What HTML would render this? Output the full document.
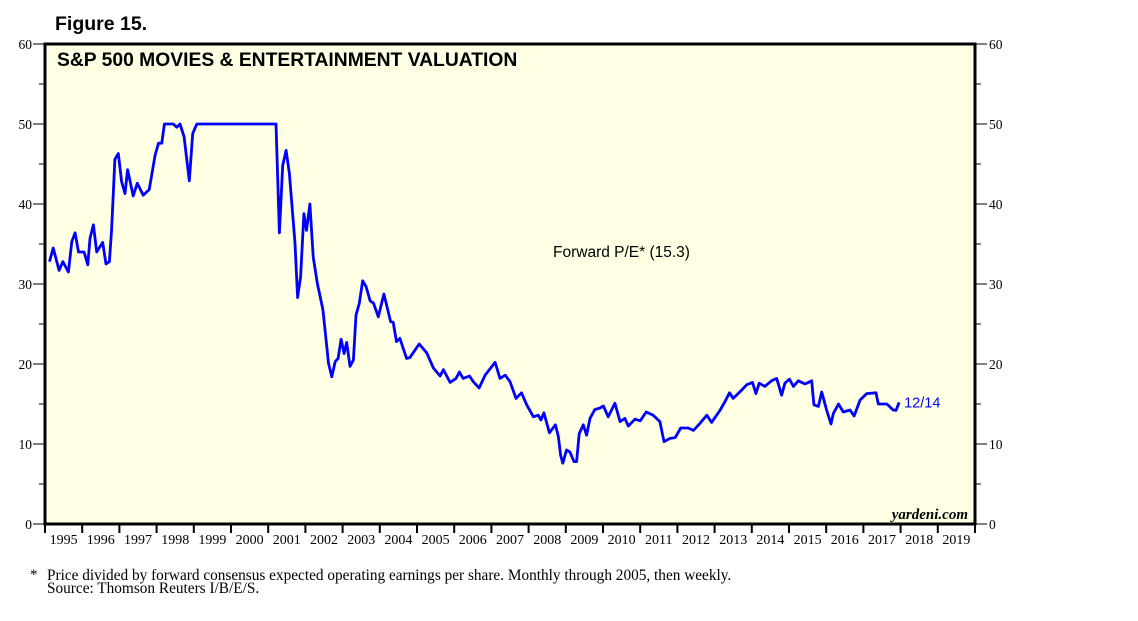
<!DOCTYPE html>
<html><head><meta charset="utf-8">
<style>
body{margin:0;background:#fff;width:1138px;height:621px;overflow:hidden;}
svg{display:block}
</style></head>
<body>
<svg id="chart" width="1138" height="621" xmlns="http://www.w3.org/2000/svg">
<text x="55" y="30" font-family="Liberation Sans, sans-serif" font-weight="bold" font-size="19.5">Figure 15.</text>
<rect x="45" y="44" width="930" height="480" fill="#ffffe3" stroke="#000" stroke-width="3"/>
<text x="57" y="66" font-family="Liberation Sans, sans-serif" font-weight="bold" font-size="19.3">S&amp;P 500 MOVIES &amp; ENTERTAINMENT VALUATION</text>
<text x="553" y="257" font-family="Liberation Sans, sans-serif" font-size="15.5">Forward P/E* (15.3)</text>
<text x="968" y="519" text-anchor="end" font-family="Liberation Serif, serif" font-style="italic" font-weight="bold" font-size="15">yardeni.com</text>
<g id="axes"></g>
<g id="series"></g>
<text x="30" y="579" font-family="Liberation Serif, serif" font-size="15">*</text>
<text x="47" y="580" font-family="Liberation Serif, serif" font-size="15.3">Price divided by forward consensus expected operating earnings per share. Monthly through 2005, then weekly.</text>
<text x="47" y="593" font-family="Liberation Serif, serif" font-size="15.3">Source: Thomson Reuters I/B/E/S.</text>
</svg>
<script>
const yTicks=[0,10,20,30,40,50,60];
const years=[1995,1996,1997,1998,1999,2000,2001,2002,2003,2004,2005,2006,2007,2008,2009,2010,2011,2012,2013,2014,2015,2016,2017,2018,2019];
const dates=[1995.12,1995.22,1995.38,1995.48,1995.63,1995.72,1995.81,1995.90,1996.05,1996.15,1996.21,1996.30,1996.39,1996.55,1996.64,1996.73,1996.79,1996.88,1996.97,1997.06,1997.15,1997.22,1997.37,1997.48,1997.64,1997.80,1997.96,1998.05,1998.14,1998.21,1998.45,1998.54,1998.63,1998.74,1998.88,1998.97,1999.08,2001.21,2001.30,2001.39,2001.48,2001.57,2001.72,2001.79,2001.87,2001.96,2002.03,2002.12,2002.21,2002.32,2002.47,2002.62,2002.71,2002.80,2002.88,2002.96,2003.04,2003.11,2003.20,2003.29,2003.36,2003.45,2003.54,2003.63,2003.74,2003.83,2003.96,2004.11,2004.29,2004.36,2004.45,2004.54,2004.72,2004.81,2005.06,2005.26,2005.44,2005.62,2005.71,2005.89,2006.05,2006.14,2006.24,2006.41,2006.51,2006.67,2006.83,2006.98,2007.10,2007.23,2007.37,2007.50,2007.66,2007.81,2007.95,2008.13,2008.26,2008.33,2008.41,2008.56,2008.72,2008.80,2008.86,2008.92,2009.02,2009.11,2009.22,2009.29,2009.36,2009.47,2009.56,2009.65,2009.78,2009.92,2010.01,2010.14,2010.32,2010.46,2010.59,2010.68,2010.86,2011.00,2011.16,2011.35,2011.53,2011.64,2011.80,2011.94,2012.09,2012.29,2012.43,2012.61,2012.79,2012.92,2013.15,2013.28,2013.40,2013.50,2013.73,2013.86,2014.02,2014.11,2014.20,2014.35,2014.53,2014.67,2014.80,2014.89,2015.01,2015.12,2015.25,2015.43,2015.61,2015.67,2015.79,2015.88,2016.01,2016.13,2016.19,2016.33,2016.46,2016.64,2016.75,2016.91,2017.09,2017.34,2017.40,2017.63,2017.80,2017.88,2017.96];
const peValues=[32.8,34.5,31.7,32.8,31.5,35.3,36.4,34.0,34.0,32.4,35.7,37.4,34.0,35.2,32.5,32.8,36.8,45.6,46.3,42.8,41.3,44.3,41.0,42.6,41.1,41.8,46.1,47.6,47.6,50,50,49.6,50,48.4,42.9,48.8,50,50,36.4,44.8,46.7,43.8,35.1,28.3,30.9,38.8,36.7,40,33.4,30.1,26.8,20.1,18.4,20.3,20.7,23.1,21.3,22.7,19.7,20.5,26.1,27.6,30.4,29.7,27.9,27.6,25.9,28.75,25.3,25.2,22.8,23.2,20.7,20.8,22.5,21.4,19.5,18.5,19.3,17.7,18.2,19.0,18.2,18.5,17.8,17.0,18.6,19.5,20.2,18.2,18.6,17.8,15.7,16.4,14.9,13.4,13.6,13.0,13.9,11.4,12.4,10.9,8.6,7.6,9.25,9.0,7.8,7.8,11.3,12.4,11.1,13.2,14.3,14.5,14.75,13.4,15.1,12.8,13.2,12.25,13.1,12.9,14.0,13.6,12.8,10.3,10.7,10.8,12.0,12.0,11.7,12.6,13.6,12.7,14.25,15.3,16.4,15.7,16.75,17.4,17.7,16.3,17.6,17.2,17.9,18.2,16.1,17.6,18.1,17.2,17.9,17.5,17.9,14.9,14.7,16.5,14.25,12.5,13.8,15.0,14.0,14.25,13.5,15.5,16.3,16.4,15.0,15.0,14.25,14.2,15.2];
const lastLabel="12/14";

const NS="http://www.w3.org/2000/svg";
const L=45,R=975,T=44,B=524;
const xS=d=>L+(d-1995)*(R-L)/25;
const yS=v=>B-v*(B-T)/60;
const axes=document.getElementById('axes');
const ser=document.getElementById('series');
function mk(tag,attrs,parent){const e=document.createElementNS(NS,tag);for(const k in attrs)e.setAttribute(k,attrs[k]);parent.appendChild(e);return e;}
yTicks.forEach(v=>{
  const y=yS(v);
  const t1=mk('line',{x1:L-12,x2:L,y1:y,y2:y,stroke:'#000','stroke-width':1},axes);
  
  
  const t2=mk('line',{x1:R,x2:R+12,y1:y,y2:y,stroke:'#000','stroke-width':1},axes);
  
  
  const a=mk('text',{x:L-13,y:y+5,'text-anchor':'end','font-family':'Liberation Serif, serif','font-size':13.5},axes);
  a.textContent=v;
  
  
  const b=mk('text',{x:R+14,y:y+5,'font-family':'Liberation Serif, serif','font-size':13.5},axes);
  b.textContent=v;
  
  
  if(v<60){const ym=yS(v+5);
    const m1=mk('line',{x1:L-6,x2:L,y1:ym,y2:ym,stroke:'#000','stroke-width':1},axes);
    
    
    const m2=mk('line',{x1:R,x2:R+6,y1:ym,y2:ym,stroke:'#000','stroke-width':1},axes);
    
    }
});
years.forEach(yr=>{
  const x=xS(yr);
  const t=mk('line',{x1:x,x2:x,y1:B,y2:B+9,stroke:'#000','stroke-width':2},axes);
  
  
  const l=mk('text',{x:xS(yr+0.5),y:B+20,'text-anchor':'middle','font-family':'Liberation Serif, serif','font-size':14},axes);
  l.textContent=yr;
  
  
});
const endTick=mk('line',{x1:R,x2:R,y1:B,y2:B+9,stroke:'#000','stroke-width':2},axes);


const pts=dates.map((d,i)=>xS(d).toFixed(1)+','+yS(peValues[i]).toFixed(1)).join(' ');
const line=mk('polyline',{points:pts,fill:'none',stroke:'#0000ff','stroke-width':2.8,'stroke-linejoin':'round'},ser);


const n=dates.length-1;
const lab=mk('text',{x:xS(dates[n])+5,y:yS(peValues[n])+5,fill:'#0000ff','font-family':'Liberation Sans, sans-serif','font-size':14.5},ser);
lab.textContent=lastLabel;


</script>
</body></html>
